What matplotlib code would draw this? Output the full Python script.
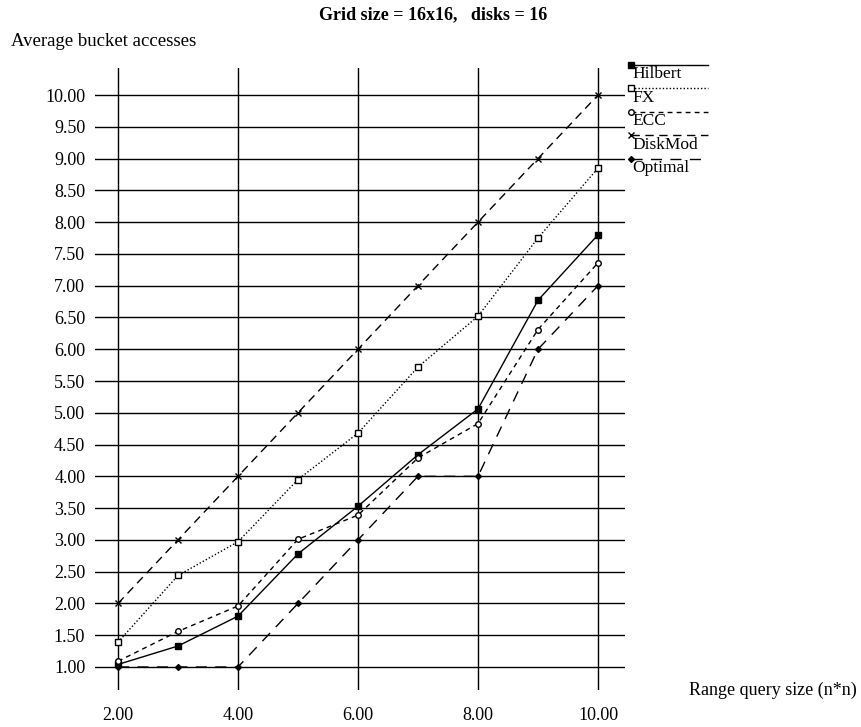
import matplotlib
matplotlib.use("Agg")
import matplotlib.pyplot as plt
from matplotlib.lines import Line2D

plt.rcParams['font.family'] = ['Liberation Serif', 'DejaVu Serif']

W, H = 861, 727

x_vals = [2, 3, 4, 5, 6, 7, 8, 9, 10]
hilbert = [1.04, 1.33, 1.80, 2.78, 3.53, 4.34, 5.06, 6.77, 7.80]
fx = [1.39, 2.44, 2.97, 3.95, 4.68, 5.72, 6.52, 7.75, 8.85]
ecc = [1.09, 1.56, 1.96, 3.01, 3.39, 4.29, 4.83, 6.31, 7.36]
diskmod = [2, 3, 4, 5, 6, 7, 8, 9, 10]
optimal = [1, 1, 1, 2, 3, 4, 4, 6, 7]

series_names = ["Hilbert", "FX", "ECC", "DiskMod", "Optimal"]
series_data = [hilbert, fx, ecc, diskmod, optimal]

x_ticks = [2, 4, 6, 8, 10]
x_ticklabels = ["2.00", "4.00", "6.00", "8.00", "10.00"]
y_ticks = [1.0, 1.5, 2.0, 2.5, 3.0, 3.5, 4.0, 4.5, 5.0, 5.5, 6.0, 6.5, 7.0, 7.5,
           8.0, 8.5, 9.0, 9.5, 10.0]
y_ticklabels = ["%.2f" % v for v in y_ticks]

styles = [
    dict(linestyle='-', marker='s', markersize=4, markerfacecolor='black', markeredgecolor='black', lw=1.0),
    dict(linestyle=(0, (1, 1.5)), marker='s', markersize=5, markerfacecolor='white', markeredgecolor='black', lw=1.0),
    dict(linestyle=(0, (3.5, 3)), marker='o', markersize=4, markerfacecolor='white', markeredgecolor='black', lw=1.0),
    dict(linestyle=(0, (6, 4)), marker='x', markersize=4, markeredgecolor='black', lw=1.0),
    dict(linestyle=(0, (8, 6)), marker='D', markersize=3, markerfacecolor='black', markeredgecolor='black', lw=1.0),
]

fig = plt.figure(figsize=(W / 100, H / 100), dpi=100)

# axes frame in pixels
ax_l, ax_r, ax_t, ax_b = 95, 625, 68, 690
ax = fig.add_axes([ax_l / W, 1 - ax_b / H, (ax_r - ax_l) / W, (ax_b - ax_t) / H])
ax.set_xlim(1.6167, 10.45)
ax.set_ylim(0.638, 10.425)
for s in ax.spines.values():
    s.set_visible(False)

ax.set_xticks(x_ticks)
ax.set_xticklabels(x_ticklabels, fontsize=13)
ax.set_yticks(y_ticks)
ax.set_yticklabels(y_ticklabels, fontsize=13)
ax.tick_params(axis='both', length=0)
ax.tick_params(axis='y', pad=7)
ax.tick_params(axis='x', pad=12.5)
ax.grid(True, color='black', linewidth=1.0)
ax.set_axisbelow(True)

for name, data, st in zip(series_names, series_data, styles):
    ax.plot(x_vals, data, color='black', clip_on=False, **st)

# legend drawn manually
leg_x0, leg_x1 = 631, 708
leg_y0, leg_dy = 64.5, 23.6
for i, (name, st) in enumerate(zip(series_names, styles)):
    yy = leg_y0 + i * leg_dy
    line = Line2D([leg_x0 / W, leg_x1 / W], [1 - yy / H, 1 - yy / H],
                  transform=fig.transFigure, color='black',
                  linestyle=st['linestyle'], lw=st['lw'])
    fig.add_artist(line)
    mk = Line2D([leg_x0 / W], [1 - yy / H], transform=fig.transFigure,
                marker=st['marker'], markersize=st['markersize'],
                markerfacecolor=st.get('markerfacecolor', 'black'),
                markeredgecolor='black', linestyle='none')
    fig.add_artist(mk)
    fig.text((leg_x0 + 1) / W, 1 - (yy + 9.5) / H, name, fontsize=12.5, ha='left', va='center')

fig.text(433 / W, 1 - 15 / H, "Grid size = 16x16,   disks = 16", fontsize=13,
         fontweight='bold', ha='center', va='center')
fig.text(11 / W, 1 - 42 / H, "Average bucket accesses", fontsize=13.5, ha='left', va='center')
fig.text(857 / W, 1 - 690 / H, "Range query size (n*n)", fontsize=13, ha='right', va='center')

fig.savefig("out.png", dpi=100)
